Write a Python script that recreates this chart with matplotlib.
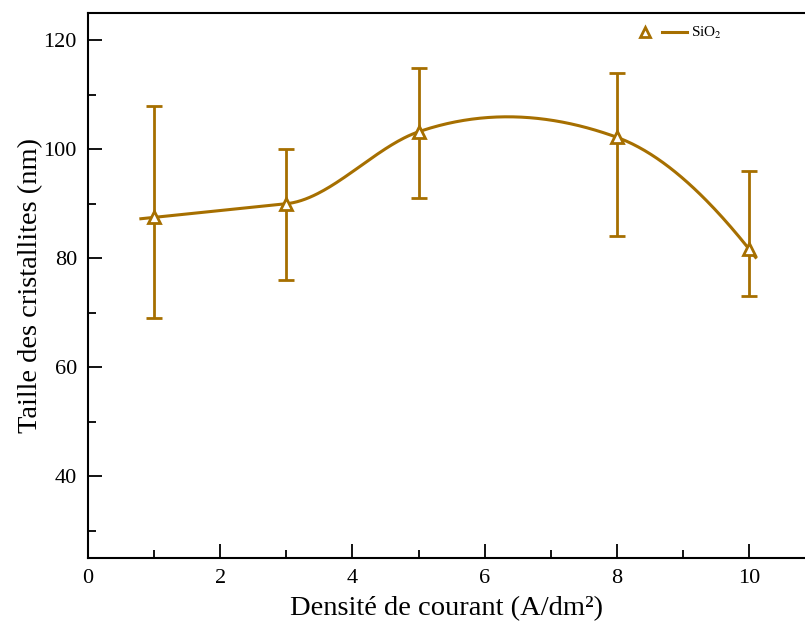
import matplotlib.pyplot as plt
import numpy as np
from matplotlib.lines import Line2D
from matplotlib.legend_handler import HandlerTuple

plt.rcParams['font.family'] = ['Liberation Serif', 'DejaVu Serif']
plt.rcParams['mathtext.fontset'] = 'stix'

density = np.array([1.0, 3.0, 5.0, 8.0, 10.0])
size = np.array([87.5, 90.0, 103.2, 102.2, 81.7])
err_low = np.array([69, 76, 91, 84, 73])
err_high = np.array([108, 100, 115, 114, 96])

color = '#A66F00'


def akima(x, y, xs):
    # Akima spline with numpy only; flat slope extension on the left,
    # linear extension on the right, outer cubics extended past the ends
    m = np.diff(y) / np.diff(x)
    m = np.concatenate([[m[0], m[0]], m,
                        [2 * m[-1] - m[-2], 3 * m[-1] - 2 * m[-2]]])
    dm = np.abs(np.diff(m))
    w1 = dm[2:]
    w2 = dm[:-2]
    t = np.where(w1 + w2 > 0, (w1 * m[1:-2] + w2 * m[2:-1]) / np.maximum(w1 + w2, 1e-12),
                 0.5 * (m[1:-2] + m[2:-1]))
    out = np.empty_like(xs)
    for k, xv in enumerate(xs):
        i = int(np.clip(np.searchsorted(x, xv) - 1, 0, len(x) - 2))
        h = x[i + 1] - x[i]
        s = (xv - x[i]) / h
        out[k] = ((2 * s**3 - 3 * s**2 + 1) * y[i] + (s**3 - 2 * s**2 + s) * h * t[i]
                  + (-2 * s**3 + 3 * s**2) * y[i + 1] + (s**3 - s**2) * h * t[i + 1])
    return out


fig = plt.figure(figsize=(8.05, 6.28), dpi=100)
ax = fig.add_axes([88 / 805, 70 / 628, 717 / 805, 545 / 628])

xs = np.linspace(0.8, 10.1, 300)
ax.plot(xs, akima(density, size, xs), color=color, lw=2.2)
ax.errorbar(density, size, yerr=[size - err_low, err_high - size], fmt='none',
            ecolor=color, elinewidth=2, capsize=6, capthick=2)
ax.plot(density, size, ls='none', marker='^', ms=9, mfc='white', mec=color, mew=2)

ax.set_xlim(0, 717 / 66.1)
ax.set_ylim(25, 125)
ax.set_xticks([0, 2, 4, 6, 8, 10])
ax.set_xticks([1, 3, 5, 7, 9], minor=True)
ax.set_yticks([40, 60, 80, 100, 120])
ax.set_yticks([30, 50, 70, 90, 110], minor=True)
ax.tick_params(which='both', direction='in', width=1.3, labelsize=16)
ax.tick_params(which='major', length=10, pad=8)
ax.tick_params(which='minor', length=6)
for s in ax.spines.values():
    s.set_linewidth(1.5)
ax.spines['right'].set_visible(False)

ax.set_xlabel('Densité de courant (A/dm²)', fontsize=20.5, labelpad=6)
ax.set_ylabel('Taille des cristallites (nm)', fontsize=20.5, labelpad=0)

h_mark = Line2D([], [], ls='none', marker='^', ms=7, mfc='white', mec=color, mew=2)
h_line = Line2D([], [], color=color, lw=2.2)
ax.legend([(h_mark, h_line)], ['SiO$_2$'], handler_map={tuple: HandlerTuple(ndivide=None, pad=0.3)},
          loc='upper left', bbox_to_anchor=(0.741, 1.003), frameon=False,
          fontsize=11, handlelength=3.5, handletextpad=0.3)

fig.savefig('out.png', dpi=100)
